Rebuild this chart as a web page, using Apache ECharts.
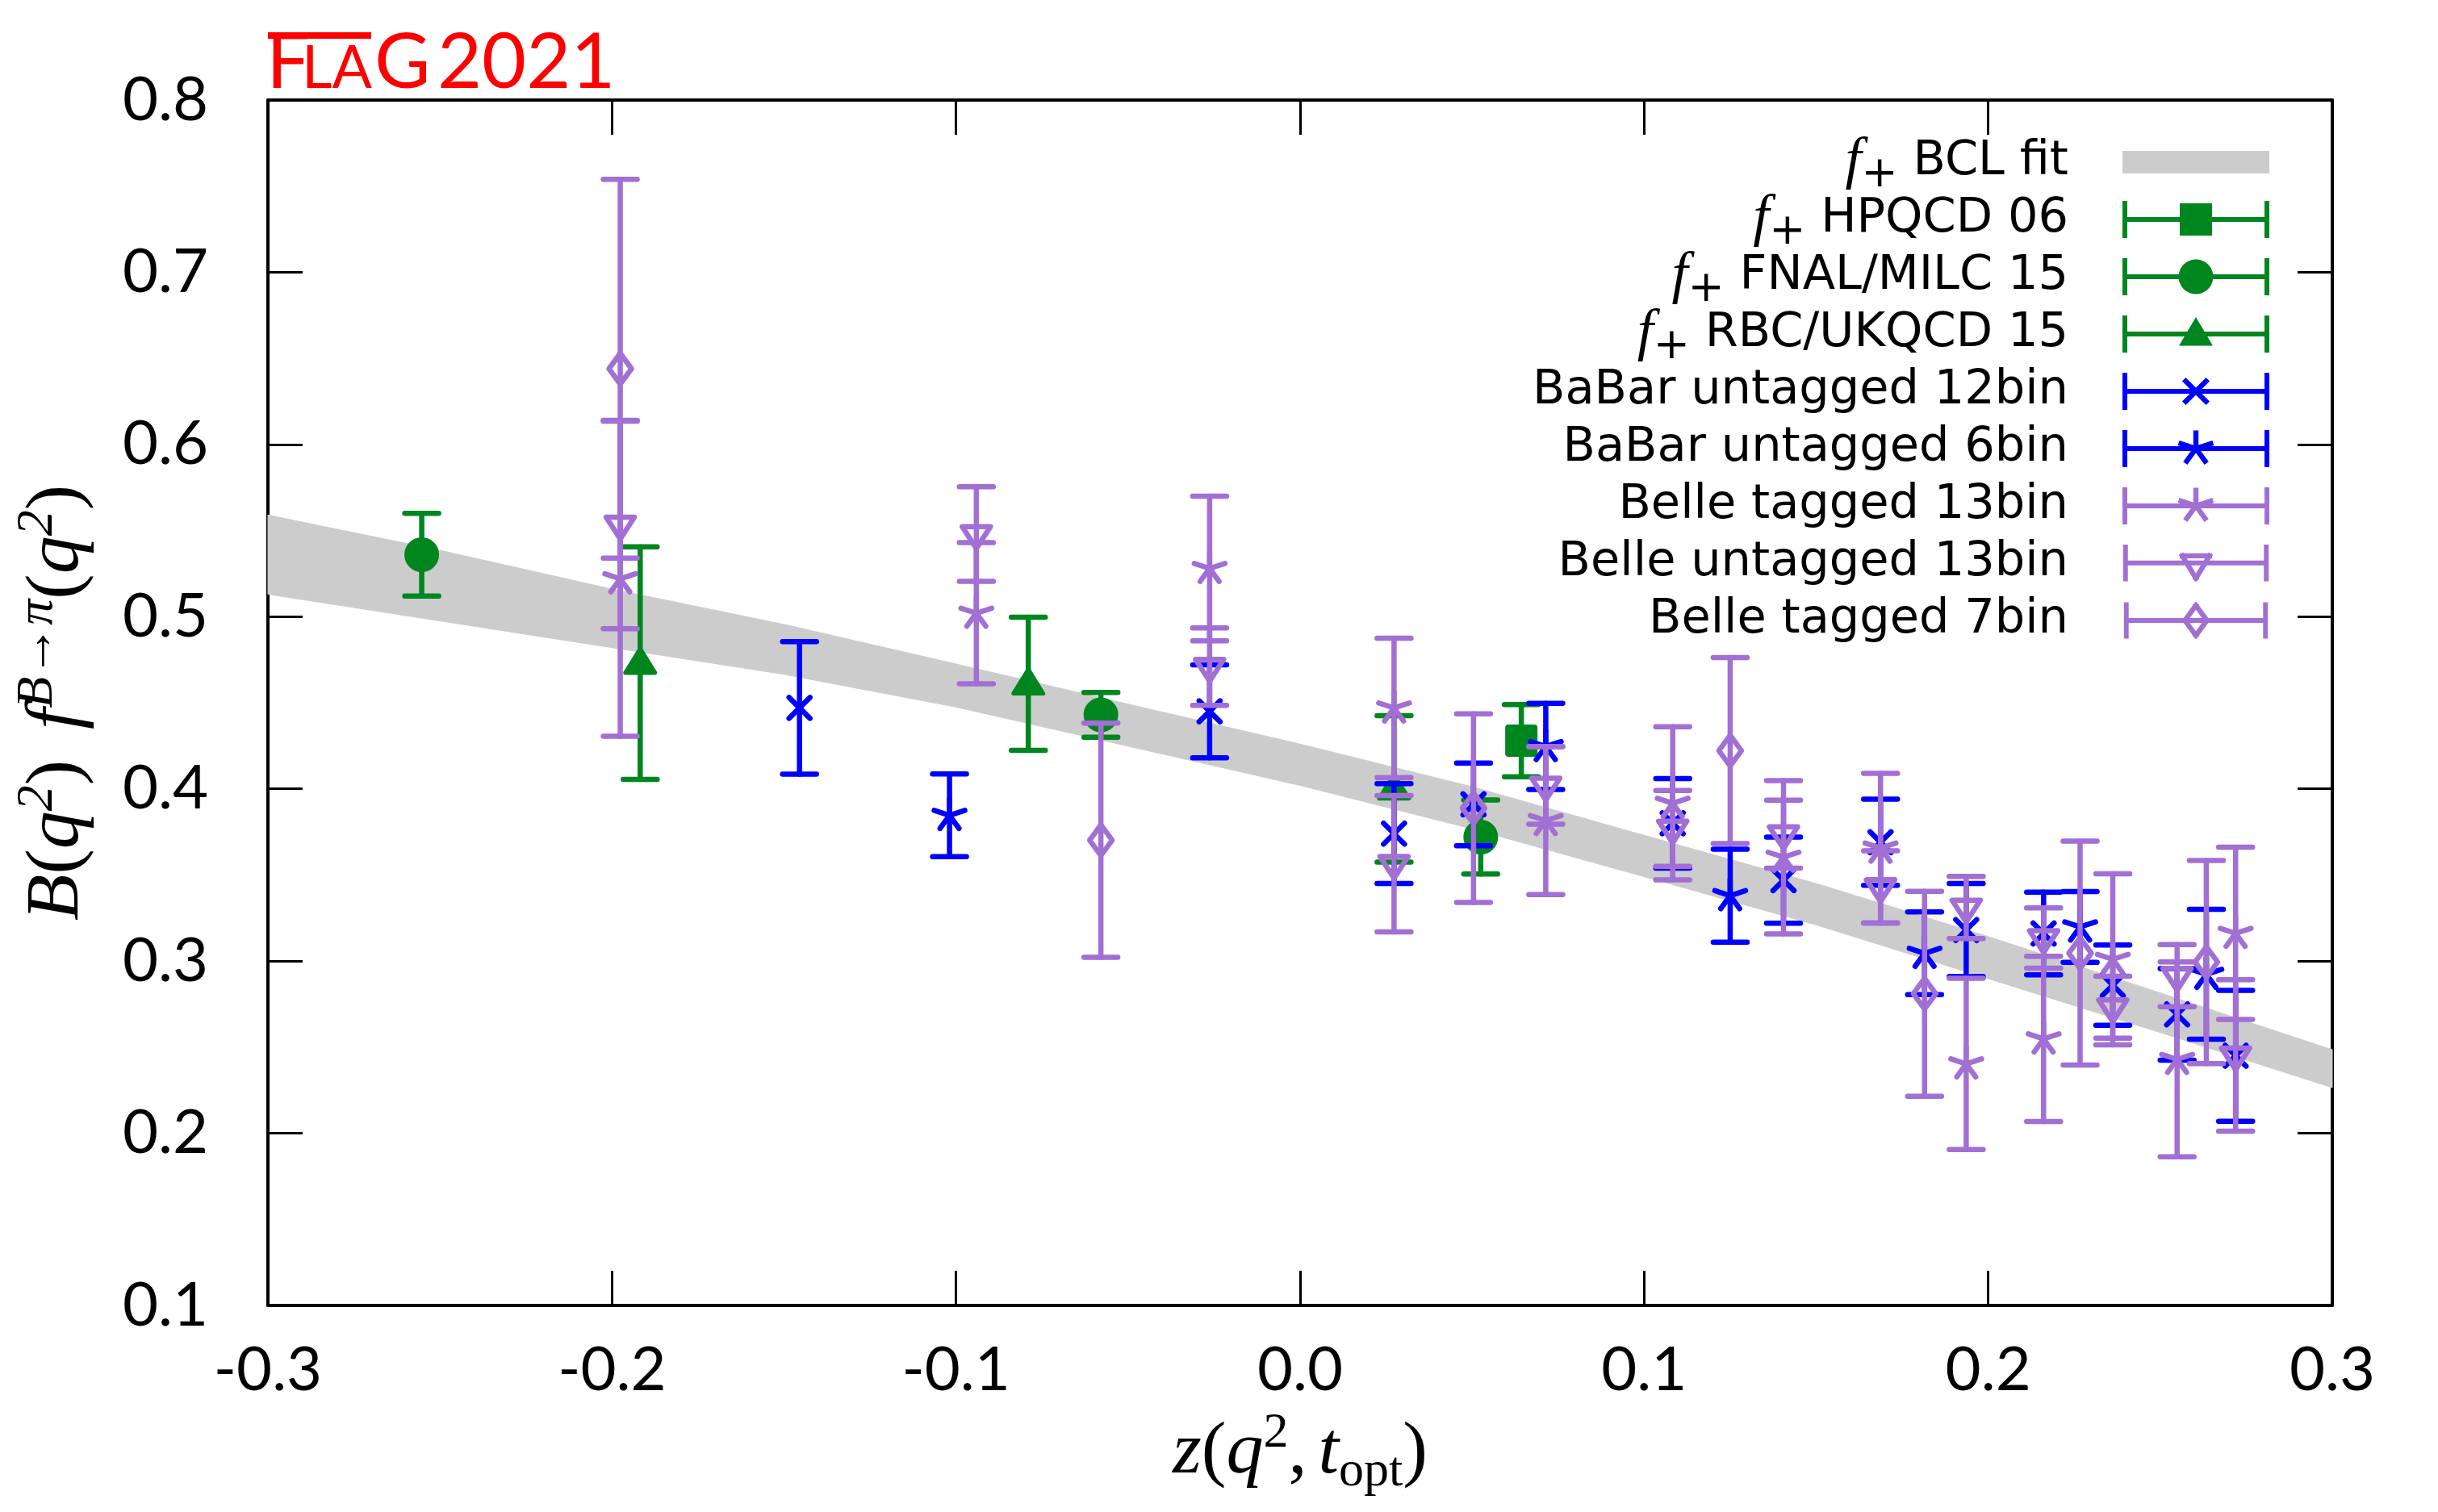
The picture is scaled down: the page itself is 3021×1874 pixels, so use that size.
<!DOCTYPE html>
<html>
<head>
<meta charset="utf-8">
<script src="https://cdn.jsdelivr.net/npm/echarts@6/dist/echarts.min.js"></script>
<style>
html,body{margin:0;padding:0;background:#fff;}
#chart{width:3021px;height:1874px;}
</style>
</head>
<body>
<div id="chart"></div>
<script>
// ---------------- data ----------------
const xTickLabels = ['-0.3','-0.2','-0.1','0.0','0.1','0.2','0.3'];
const yTickLabels = ['0.1','0.2','0.3','0.4','0.5','0.6','0.7','0.8'];

// BCL fit band
const bandZ  = [-0.30,-0.25,-0.20,-0.15,-0.10,-0.05,0.00,0.05,0.10,0.15,0.20,0.25,0.30];
const bandHi = [0.559,0.5385,0.516,0.4955,0.4725,0.4492,0.426,0.4012,0.373,0.345,0.3142,0.2815,0.2485];
const bandLo = [0.513,0.4975,0.482,0.4665,0.4475,0.4248,0.402,0.3768,0.349,0.321,0.2898,0.2585,0.2265];

// f+ HPQCD 06
const hpqcdZ = [0.0643];
const hpqcdF = [0.428];
const hpqcdErr = [0.021];

// f+ FNAL/MILC 15
const fnalZ = [-0.2553,-0.0579,0.0525];
const fnalF = [0.536,0.443,0.372];
const fnalErr = [0.024,0.013,0.0215];

// f+ RBC/UKQCD 15
const rbcZ = [-0.1918,-0.079,0.0273];
const rbcF = [0.473,0.461,0.400];
const rbcErr = [0.0675,0.0387,0.0425];

// BaBar untagged 12bin
const babar12Z = [-0.1455,-0.0263,0.0273,0.0504,0.1083,0.1405,0.1687,0.1936,0.2161,0.2362,0.2549,0.2719];
const babar12F = [0.447,0.445,0.374,0.391,0.380,0.347,0.369,0.318,0.316,0.286,0.269,0.245];
const babar12Err = [0.0385,0.027,0.029,0.024,0.026,0.025,0.025,0.027,0.024,0.0233,0.0266,0.038];

// BaBar untagged 6bin
const babar6Z = [-0.1019,0.0714,0.125,0.1815,0.2267,0.2634];
const babar6F = [0.3846,0.4246,0.338,0.3045,0.3198,0.2923];
const babar6Err = [0.024,0.025,0.027,0.024,0.0206,0.0377];

// Belle tagged 13bin
const belleT13Z = [-0.1976,-0.0941,-0.0263,0.0273,0.0714,0.1083,0.1405,0.1687,0.1936,0.2161,0.2362,0.2549,0.2719];
const belleT13F = [0.522,0.502,0.528,0.447,0.3816,0.3916,0.3603,0.3656,0.2403,0.2548,0.301,0.2429,0.3161];
const belleT13Err = [0.0915,0.041,0.042,0.0405,0.043,0.0445,0.0445,0.0434,0.0497,0.048,0.0497,0.0566,0.05];

// Belle untagged 13bin
const belleU13Z = [-0.1976,-0.0941,-0.0263,0.0273,0.0714,0.1083,0.1405,0.1687,0.1936,0.2161,0.2362,0.2549,0.2719];
const belleU13F = [0.5535,0.548,0.471,0.3565,0.402,0.377,0.3737,0.343,0.3311,0.3134,0.2732,0.2915,0.2452];
const belleU13Err = [0.0605,0.0275,0.0225,0.0396,0.0225,0.022,0.0197,0.021,0.018,0.0175,0.018,0.018,0.044];

// Belle tagged 7bin
const belleT7Z = [-0.1976,-0.0579,0.0504,0.125,0.1815,0.2267,0.2634];
const belleT7F = [0.644,0.3702,0.3888,0.4222,0.281,0.3046,0.2994];
const belleT7Err = [0.110,0.068,0.0548,0.054,0.0595,0.065,0.059];

// ---------------- styling ----------------
const GREEN = '#00861f';
const BLUE = '#0000ff';
const PURPLE = '#a26fd4';
const GRAY = '#cccccc';
const LW = 6.5;

function zip3(a,b,c){ return a.map((v,i)=>[v,b[i],c[i]]); }

// marker drawing (pixel sizes only, positions come from api.coord)
function marker(shape, cx, cy, color){
  const sw = {stroke: color, lineWidth: LW, lineCap: 'round', lineJoin: 'round', fill: null};
  switch(shape){
    case 'square':
      return {type:'rect', shape:{x:cx-18,y:cy-18,width:36,height:36,r:2}, style:{fill:color, stroke:color, lineWidth:4, lineJoin:'round'}};
    case 'circle':
      return {type:'circle', shape:{cx:cx,cy:cy,r:19.5}, style:{fill:color, stroke:color, lineWidth:4}};
    case 'triUp':
      return {type:'polygon', shape:{points:[[cx,cy-18],[cx+18.5,cy+12],[cx-18.5,cy+12]]}, style:{fill:color, stroke:color, lineWidth:5, lineJoin:'round'}};
    case 'cross':
      return {type:'group', children:[
        {type:'line', shape:{x1:cx-13,y1:cy-13,x2:cx+13,y2:cy+13}, style:sw},
        {type:'line', shape:{x1:cx-13,y1:cy+13,x2:cx+13,y2:cy-13}, style:sw}
      ]};
    case 'star': {
      const ch = [];
      for (let k=0;k<5;k++){
        const a = (-90 + 72*k) * Math.PI/180;
        ch.push({type:'line', shape:{x1:cx,y1:cy,x2:cx+20*Math.cos(a),y2:cy+20*Math.sin(a)}, style:sw});
      }
      return {type:'group', children:ch};
    }
    case 'triDown':
      return {type:'polygon', shape:{points:[[cx-17.5,cy-9],[cx+17.5,cy-9],[cx,cy+18]]}, style:sw};
    case 'diamond':
      return {type:'polygon', shape:{points:[[cx,cy-19],[cx+14,cy],[cx,cy+19],[cx-14,cy]]}, style:sw};
  }
}

function errRender(shape, color){
  return function(params, api){
    const z = api.value(0), v = api.value(1), e = api.value(2);
    const c = api.coord([z, v]);
    const t = api.coord([z, v + e]);
    const b = api.coord([z, v - e]);
    const ls = {stroke: color, lineWidth: LW, lineCap: 'round', fill: null};
    const capHalf = 21;
    return {type:'group', children:[
      {type:'line', shape:{x1:c[0],y1:t[1],x2:c[0],y2:b[1]}, style:ls},
      {type:'line', shape:{x1:c[0]-capHalf,y1:t[1],x2:c[0]+capHalf,y2:t[1]}, style:ls},
      {type:'line', shape:{x1:c[0]-capHalf,y1:b[1],x2:c[0]+capHalf,y2:b[1]}, style:ls},
      marker(shape, c[0], c[1], color)
    ]};
  };
}

function bandRender(params, api){
  const i = params.dataIndex;
  if (i >= bandZ.length - 1) return null;
  const p1 = api.coord([api.value(0), api.value(1)]);
  const p2 = api.coord([bandZ[i+1], bandLo[i+1]]);
  const p3 = api.coord([bandZ[i+1], bandHi[i+1]]);
  const p4 = api.coord([api.value(0), api.value(2)]);
  return {type:'polygon', shape:{points:[p1,p2,p3,p4]}, style:{fill:GRAY, stroke:GRAY, lineWidth:1}};
}

// ---------- legend icons (filled paths in a 182 x 46 box) ----------
function fmt(n){ return (Math.round(n*100)/100).toString(); }
function polyPath(pts){
  let a = 0;
  for (let i=0;i<pts.length;i++){ const p=pts[i], q=pts[(i+1)%pts.length]; a += p[0]*q[1]-q[0]*p[1]; }
  if (a > 0) pts = pts.slice().reverse();
  return 'M' + pts.map(p=>fmt(p[0])+' '+fmt(p[1])).join(' L') + ' Z ';
}
function seg(x1,y1,x2,y2,hw,ext){
  const dx=x2-x1, dy=y2-y1, L=Math.hypot(dx,dy)||1;
  const ux=dx/L, uy=dy/L, nx=-uy*hw, ny=ux*hw;
  const ax=x1-ux*ext, ay=y1-uy*ext, bx=x2+ux*ext, by=y2+uy*ext;
  return polyPath([[ax+nx,ay+ny],[bx+nx,by+ny],[bx-nx,by-ny],[ax-nx,ay-ny]]);
}
function outline(pts, hw){
  let s='';
  for (let i=0;i<pts.length;i++){ const p=pts[i], q=pts[(i+1)%pts.length]; s += seg(p[0],p[1],q[0],q[1],hw,hw); }
  return s;
}
const CX = 91, CY = 23;
const errIcon = seg(3,3,3,43,3,3) + seg(179,3,179,43,3,3) + seg(0,23,182,23,3,0);
function iconFor(shape){
  let m = '';
  switch(shape){
    case 'square': m = polyPath([[CX-20,CY-20],[CX+20,CY-20],[CX+20,CY+20],[CX-20,CY+20]]); break;
    case 'circle': { const pts=[]; for(let k=0;k<36;k++){const a=k*10*Math.PI/180; pts.push([CX+21.5*Math.cos(a),CY+21.5*Math.sin(a)]);} m = polyPath(pts); break; }
    case 'triUp': m = polyPath([[CX,CY-21],[CX+21,CY+14.5],[CX-21,CY+14.5]]); break;
    case 'cross': m = seg(CX-13,CY-13,CX+13,CY+13,3.2,2.5) + seg(CX-13,CY+13,CX+13,CY-13,3.2,2.5); break;
    case 'star': for (let k=0;k<5;k++){ const a=(-90+72*k)*Math.PI/180; m += seg(CX,CY,CX+20*Math.cos(a),CY+20*Math.sin(a),3.2,2.5); } break;
    case 'triDown': m = outline([[CX-17,CY-9],[CX+17,CY-9],[CX,CY+19]],3.2); break;
    case 'diamond': m = outline([[CX,CY-19],[CX+14,CY],[CX,CY+19],[CX-14,CY]],3.2); break;
  }
  return 'path://' + errIcon + m;
}
const bandIcon = 'path://M0 0 Z M182 46 Z ' + polyPath([[0,9],[182,9],[182,37],[0,37]]);

// ---------------- series ----------------
const seriesDefs = [
  {name:'f+ HPQCD 06', z:hpqcdZ, f:hpqcdF, e:hpqcdErr, shape:'square', color:GREEN},
  {name:'f+ FNAL/MILC 15', z:fnalZ, f:fnalF, e:fnalErr, shape:'circle', color:GREEN},
  {name:'f+ RBC/UKQCD 15', z:rbcZ, f:rbcF, e:rbcErr, shape:'triUp', color:GREEN},
  {name:'BaBar untagged 12bin', z:babar12Z, f:babar12F, e:babar12Err, shape:'cross', color:BLUE},
  {name:'BaBar untagged 6bin', z:babar6Z, f:babar6F, e:babar6Err, shape:'star', color:BLUE},
  {name:'Belle tagged 13bin', z:belleT13Z, f:belleT13F, e:belleT13Err, shape:'star', color:PURPLE},
  {name:'Belle untagged 13bin', z:belleU13Z, f:belleU13F, e:belleU13Err, shape:'triDown', color:PURPLE},
  {name:'Belle tagged 7bin', z:belleT7Z, f:belleT7F, e:belleT7Err, shape:'diamond', color:PURPLE}
];

const series = [{
  name:'f+ BCL fit', type:'custom', renderItem: bandRender,
  data: zip3(bandZ, bandLo, bandHi), encode:{x:0, y:[1,2]},
  itemStyle:{color:GRAY}, silent:true, z:1
}].concat(seriesDefs.map(d => ({
  name:d.name, type:'custom', renderItem: errRender(d.shape, d.color),
  data: zip3(d.z, d.f, d.e), encode:{x:0, y:1},
  itemStyle:{color:d.color}, silent:true, z:2
})));

const legendData = [{name:'f+ BCL fit', icon: bandIcon, itemStyle:{color:GRAY, borderWidth:0}}]
  .concat(seriesDefs.map(d => ({name:d.name, icon: iconFor(d.shape), itemStyle:{color:d.color, borderWidth:0}})));

const axisCommon = {
  axisLine:{show:true, onZero:false, lineStyle:{color:'#000', width:4}},
  axisTick:{show:true, inside:true, length:43, lineStyle:{color:'#000', width:3}},
  splitLine:{show:false}
};

const chart = echarts.init(document.getElementById('chart'), null, {renderer:'canvas'});
chart.setOption({
  animation:false,
  backgroundColor:'#fff',
  grid:{left:332, right:131, top:124, bottom:256, containLabel:false},
  xAxis:[
    Object.assign({type:'value', min:-0.3, max:0.3, interval:0.1, position:'bottom',
      axisLabel:{margin:42, fontSize:76, fontFamily:'Lato', color:'#000',
        formatter: v => xTickLabels[Math.round((v + 0.3) / 0.1)]},
      name:'{i|z}{n|(}{i|q}{sup|2}{n|,}{sp| }{i|t}{sub|opt}{n|)}',
      nameLocation:'middle', nameGap:128,
      nameTextStyle:{fontSize:92, fontFamily:'Liberation Serif', color:'#000',
        rich:{
          i:{fontFamily:'Liberation Serif', fontStyle:'italic', fontSize:92, color:'#000', lineHeight:110},
          n:{fontFamily:'Liberation Serif', fontSize:92, color:'#000', lineHeight:110},
          sp:{fontSize:56, lineHeight:110},
          sup:{fontFamily:'Liberation Serif', fontSize:62, color:'#000', verticalAlign:'top', lineHeight:66},
          sub:{fontFamily:'Liberation Serif', fontSize:62, color:'#000', verticalAlign:'bottom', lineHeight:66}
        }}
    }, axisCommon),
    Object.assign({type:'value', min:-0.3, max:0.3, interval:0.1, position:'top', axisLabel:{show:false}}, axisCommon)
  ],
  yAxis:[
    Object.assign({type:'value', min:0.1, max:0.8, interval:0.1, position:'left',
      axisLabel:{margin:74, fontSize:76, fontFamily:'Lato', color:'#000',
        formatter: v => yTickLabels[Math.round((v - 0.1) / 0.1)]},
      name:'{i|B}{n|(}{i|q}{sup|2}{n|)}{sp|  }{i|f}{sup|B→π}{n|(}{i|q}{sup|2}{n|)}',
      nameLocation:'middle', nameGap:205, nameRotate:90,
      nameTextStyle:{fontSize:94, fontFamily:'Liberation Serif', color:'#000',
        rich:{
          i:{fontFamily:'Liberation Serif', fontStyle:'italic', fontSize:94, color:'#000', lineHeight:112},
          n:{fontFamily:'Liberation Serif', fontSize:94, color:'#000', lineHeight:112},
          sp:{fontSize:76, lineHeight:112},
          sup:{fontFamily:'Liberation Serif', fontStyle:'italic', fontSize:64, color:'#000', verticalAlign:'top', lineHeight:68}
        }}
    }, axisCommon),
    Object.assign({type:'value', min:0.1, max:0.8, interval:0.1, position:'right', axisLabel:{show:false}}, axisCommon)
  ],
  legend:{
    show:true, orient:'vertical', align:'right', right:204, top:160,
    itemWidth:182, itemHeight:46, itemGap:-8, selectedMode:false,
    data: legendData,
    formatter: function(name){
      if (name.indexOf('f+ ') === 0) return '{f|f}{sub|+}{t| ' + name.slice(3) + '}';
      return '{f|\u200B}{sub|\u200B}{t|' + name + '}';
    },
    textStyle:{fontSize:59, fontFamily:'DejaVu Sans', color:'#000', padding:[0,62,0,0], lineHeight:46,
      rich:{
        t:{fontSize:59, fontFamily:'DejaVu Sans', color:'#000', lineHeight:46},
        f:{fontSize:72, fontFamily:'Liberation Serif', fontStyle:'italic', color:'#000', lineHeight:46},
        sub:{fontSize:54, fontFamily:'DejaVu Sans', color:'#000', lineHeight:46, height:14, padding:[32,0,0,0]}
      }}
  },
  graphic:[
    {type:'text', x:330, y:31, style:{text:'F', fontSize:95, fontFamily:'Lato', fill:'#ff0000', verticalAlign:'top'}},
    {type:'text', x:374, y:49, style:{text:'LA', fontSize:73, fontFamily:'Lato', fill:'#ff0000', verticalAlign:'top'}},
    {type:'text', x:464, y:31, style:{text:'G', fontSize:95, fontFamily:'Lato', fill:'#ff0000', verticalAlign:'top'}},
    {type:'text', x:542, y:31, style:{text:'2021', fontSize:95, fontFamily:'Lato', fill:'#ff0000', verticalAlign:'top'}},
    {type:'rect', shape:{x:332, y:40, width:128, height:8}, style:{fill:'#ff0000'}}
  ],
  series: series
});
</script>
</body>
</html>
